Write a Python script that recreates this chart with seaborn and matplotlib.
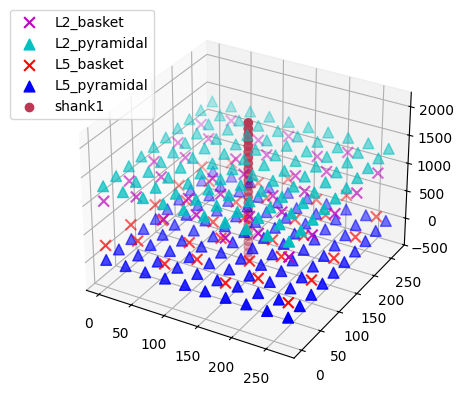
import numpy as np
import matplotlib
matplotlib.use("Agg")
import matplotlib.pyplot as plt
import seaborn as sns
import pandas as pd

pyr_x = [0, 30, 60, 90, 120, 150, 180, 210, 240, 270]
pyr_y = [0, 30, 60, 90, 120, 150, 180, 210, 240, 270]
basket_x_even = [0, 90, 180, 270]
basket_y_even = [0, 60, 120, 180, 240]
basket_x_odd = [30, 120, 210]
basket_y_odd = [30, 90, 150, 210, 270]

L2_PYR_Z = 1307.4
L5_PYR_Z = 0.0
L2_BASKET_Z = 1045.9
L5_BASKET_Z = 261.5

shank_x = 135
shank_y = 135
shank_z = [-325, -225, -125, -25, 75, 175, 275, 375, 475, 575, 675, 775, 875,
           975, 1075, 1175, 1275, 1375, 1475, 1575, 1675, 1775, 1875, 1975, 2075]


def grid_frame(xs, ys, z):
    mesh_x, mesh_y = np.meshgrid(xs, ys)
    return pd.DataFrame({"x": mesh_x.ravel(), "y": mesh_y.ravel(), "z": z})


def basket_frame(z):
    return pd.concat([grid_frame(basket_x_even, basket_y_even, z),
                      grid_frame(basket_x_odd, basket_y_odd, z)])


layers = {
    "L2_basket": (basket_frame(L2_BASKET_Z), "x", "m"),
    "L2_pyramidal": (grid_frame(pyr_x, pyr_y, L2_PYR_Z), "^", "c"),
    "L5_basket": (basket_frame(L5_BASKET_Z), "x", "r"),
    "L5_pyramidal": (grid_frame(pyr_x, pyr_y, L5_PYR_Z), "^", "b"),
}

fig = plt.figure(figsize=(6.4, 4.8), dpi=100)
ax = fig.add_subplot(projection="3d")

for name, (df, marker, color) in layers.items():
    ax.scatter(df["x"], df["y"], df["z"], marker=marker, color=color, s=60, label=name)

# shankの色はinfernoの中間
shank_color = sns.color_palette("inferno", 3)[1]
ax.scatter([shank_x] * len(shank_z), [shank_y] * len(shank_z), shank_z,
           color=shank_color, s=36, label="shank1")

ax.set_zticks([-500, 0, 500, 1000, 1500, 2000])
ax.legend(bbox_to_anchor=(-0.15, 1.025), loc="upper left")

fig.savefig("out.png", dpi=100, bbox_inches="tight")
plt.close(fig)
